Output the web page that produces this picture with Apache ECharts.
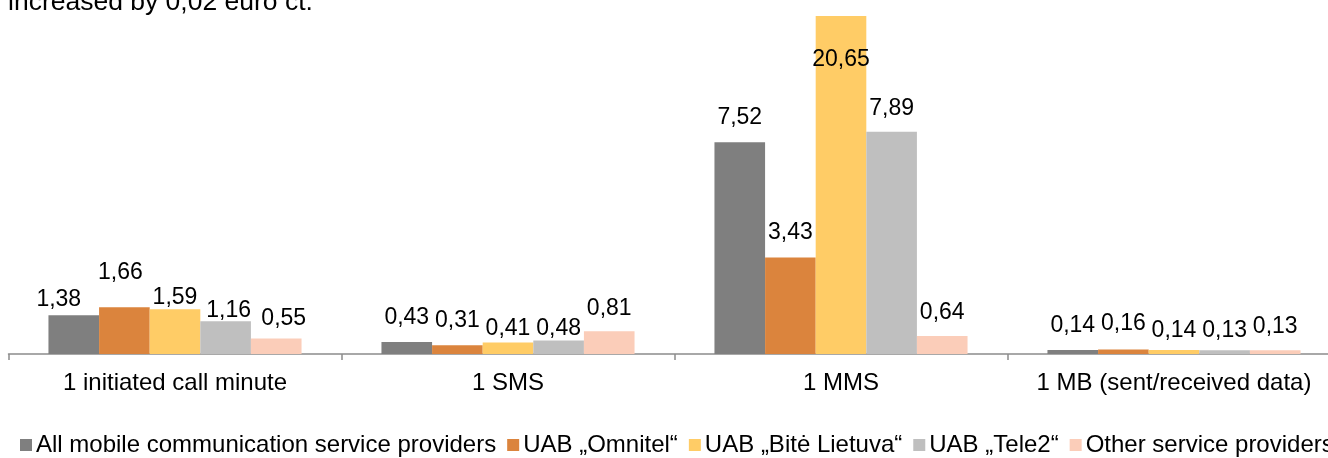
<!DOCTYPE html>
<html>
<head>
<meta charset="utf-8">
<script src="https://cdn.jsdelivr.net/npm/echarts@6/dist/echarts.min.js"></script>
<style>
html,body{margin:0;padding:0;background:#fff;}
#chart{width:1328px;height:458px;}
</style>
</head>
<body>
<div id="chart"></div>
<script>
// ---- data ----
const categories = ['1 initiated call minute', '1 SMS', '1 MMS', '1 MB (sent/received data)'];
const seriesNames = [
  'All mobile communication service providers',
  'UAB \u201EOmnitel\u201C',
  'UAB \u201EBit\u0117 Lietuva\u201C',
  'UAB \u201ETele2\u201C',
  'Other service providers'
];
const allProviders = [1.38, 0.43, 7.52, 0.14];
const omnitel      = [1.66, 0.31, 3.43, 0.16];
const bite         = [1.59, 0.41, 20.65, 0.14];
const tele2        = [1.16, 0.48, 7.89, 0.13];
const others       = [0.55, 0.81, 0.64, 0.13];
const topNote = 'increased by 0,02 euro ct.';

// ---- styling ----
const colors = ['#7F7F7F', '#DB843D', '#FFCC66', '#BFBFBF', '#FBCDB9'];
// manual label nudges [dx, dy] (as in the original, labels were hand-moved)
const labelNudges = [
  [[-15, 9], [0, 0], [0, 0], [0, 0]],
  [[-4, -10], [0, 0], [0, 0], [0, -1]],
  [[0, 13], [0, 11], null, [0, 5]],
  [[3, 14], [0, 13], [0, 1.5], [0, 5]],
  [[7.5, 5], [0, 2], [0, 1], [0, 1]]
];
const FONT = 'Liberation Sans, Arial, sans-serif';
const fmt = v => v.toFixed(2).replace('.', ',');

const valueSets = [allProviders, omnitel, bite, tele2, others];

const chart = echarts.init(document.getElementById('chart'), null, {renderer: 'canvas'});

const series = valueSets.map((vals, si) => ({
  name: seriesNames[si],
  type: 'bar',
  barGap: '0%',
  barCategoryGap: '24%',
  clip: true,
  itemStyle: {color: colors[si]},
  label: {
    show: true,
    position: 'top',
    distance: 13,
    fontFamily: FONT,
    fontSize: 23,
    color: '#000',
    formatter: p => fmt(p.value)
  },
  data: vals.map((v, ci) => {
    const n = labelNudges[si][ci];
    if (n === null) {
      return {value: v, label: {position: 'insideTop', distance: 32}};
    }
    return {value: v, label: {offset: n}};
  })
}));

chart.setOption({
  animation: false,
  backgroundColor: '#fff',
  color: colors,
  textStyle: {fontFamily: FONT},
  grid: {left: 8.5, top: 16, width: 1332, height: 338, containLabel: false, outerBoundsMode: 'none'},
  legend: {
    left: 20,
    top: 433,
    padding: 0,
    width: 1600,
    itemWidth: 12,
    itemHeight: 12,
    itemGap: 11,
    icon: 'rect',
    textStyle: {fontFamily: FONT, fontSize: 24, color: '#000', padding: [0, 0, 0, -1]},
    data: seriesNames
  },
  xAxis: {
    type: 'category',
    data: categories,
    axisLine: {lineStyle: {color: '#8C8C8C', width: 1.5}},
    axisTick: {show: true, length: 6, lineStyle: {color: '#8C8C8C', width: 1.5}},
    axisLabel: {fontFamily: FONT, fontSize: 24, color: '#000', margin: 17, interval: 0}
  },
  yAxis: {
    type: 'value',
    min: 0,
    max: 12,
    show: false,
    splitLine: {show: false}
  },
  graphic: [{
    type: 'text',
    left: 8,
    top: -11,
    style: {text: topNote, font: '26.5px ' + FONT, fill: '#000'}
  }],
  series: series
});
</script>
</body>
</html>
